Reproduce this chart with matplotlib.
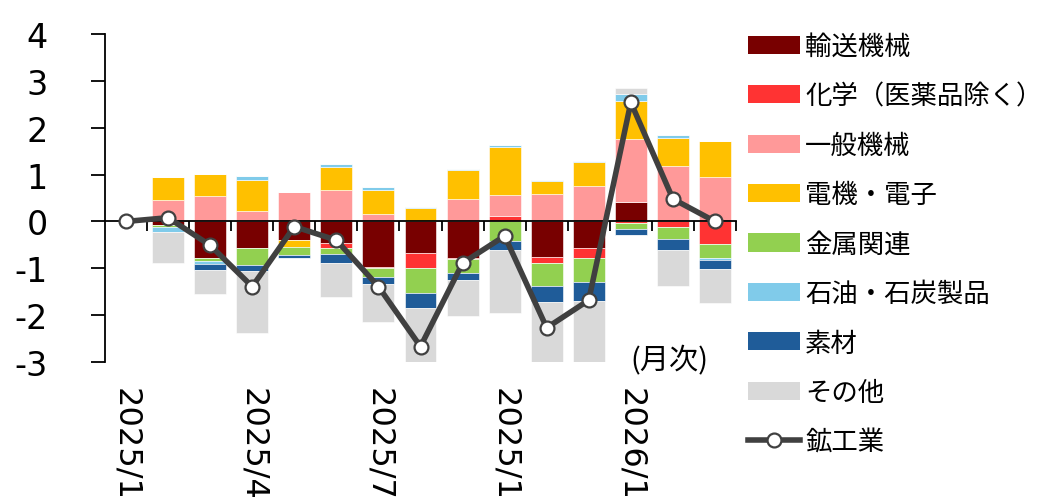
import matplotlib
matplotlib.use("Agg")
import matplotlib.pyplot as plt
import matplotlib.transforms as mtransforms
from matplotlib.patches import Patch
from matplotlib.lines import Line2D
import numpy as np

plt.rcParams['font.family'] = ['DejaVu Sans', 'Noto Sans CJK JP']
plt.rcParams['axes.unicode_minus'] = False

# 月次データ（2025/1〜2026/3、前月比寄与度）
meses = ['2025/1', '2025/2', '2025/3', '2025/4', '2025/5', '2025/6', '2025/7', '2025/8',
         '2025/9', '2025/10', '2025/11', '2025/12', '2026/1', '2026/2', '2026/3']
etiquetas_x = ['2025/1', '', '', '2025/4', '', '', '2025/7', '', '', '2025/10', '', '', '2026/1', '', '']

series = ['輸送機械', '化学（医薬品除く）', '一般機械', '電機・電子', '金属関連', '石油・石炭製品', '素材', 'その他']
colores = ['#780000', '#FF3333', '#FF9999', '#FFC000', '#92D050', '#80CBEA', '#1F5C99', '#D9D9D9']

transporte = [0, -0.08, -0.78, -0.57, -0.40, -0.45, -0.97, -0.67, -0.78, 0.0, -0.75, -0.57, 0.42, 0.0, 0.0]
quimica = [0, 0, 0, 0, 0, -0.11, -0.02, -0.33, -0.03, 0.11, -0.13, -0.21, -0.04, -0.11, -0.48]
maquinaria = [0, 0.45, 0.54, 0.22, 0.63, 0.68, 0.16, 0, 0.47, 0.45, 0.58, 0.75, 1.33, 1.18, 0.95]
electronica = [0, 0.50, 0.48, 0.67, -0.14, 0.48, 0.52, 0.28, 0.62, 1.02, 0.29, 0.51, 0.83, 0.60, 0.77]
metales = [0, -0.035, -0.07, -0.35, -0.18, -0.14, -0.20, -0.53, -0.28, -0.42, -0.50, -0.52, -0.13, -0.26, -0.30]
petroleo = [0, -0.10, -0.05, 0.07, 0, 0.06, 0.05, 0.03, 0.035, 0.05, 0.02, 0.035, 0.135, 0.064, -0.05]
materiales = [0, 0, -0.13, -0.14, -0.05, -0.18, -0.14, -0.31, -0.16, -0.18, -0.35, -0.39, -0.12, -0.23, -0.18]
otros = [0, -0.68, -0.51, -1.32, 0, -0.74, -0.81, -1.17, -0.77, -1.35, -1.34, -1.31, 0.135, -0.78, -0.73]

mineria = [0, 0.08, -0.51, -1.39, -0.11, -0.40, -1.39, -2.67, -0.89, -0.31, -2.27, -1.68, 2.54, 0.48, 0.0]

datos = [transporte, quimica, maquinaria, electronica, metales, petroleo, materiales, otros]

fig = plt.figure(figsize=(10.41, 5.02), dpi=100)
ax = fig.add_axes([105 / 1041, 1 - 363 / 502, 631 / 1041, 328 / 502])

x = np.arange(len(meses))
base_pos = np.zeros(len(meses))
base_neg = np.zeros(len(meses))

# barras apiladas: positivas hacia arriba, negativas hacia abajo
for valores, color in zip(datos, colores):
    v = np.array(valores, dtype=float)
    pos = np.where(v > 0, v, 0)
    neg = np.where(v < 0, v, 0)
    ax.bar(x, pos, bottom=base_pos, width=0.76, color=color, edgecolor='white', linewidth=0.4, zorder=2)
    ax.bar(x, neg, bottom=base_neg, width=0.76, color=color, edgecolor='white', linewidth=0.4, zorder=2)
    base_pos += pos
    base_neg += neg

# línea del índice total
ax.plot(x, mineria, color='#404040', linewidth=4, marker='o', markersize=10,
        markerfacecolor='white', markeredgecolor='#404040', markeredgewidth=1.6, zorder=4)

# ejes
ax.set_xlim(-0.5, len(meses) - 0.5)
ax.set_ylim(-3, 4)
ax.set_yticks(range(-3, 5))
ax.tick_params(axis='y', direction='out', length=10, width=1.3, pad=31, labelsize=24)
ax.spines['top'].set_visible(False)
ax.spines['right'].set_visible(False)
ax.spines['left'].set_linewidth(1.3)
ax.spines['bottom'].set_position(('data', 0))
ax.spines['bottom'].set_linewidth(1.3)
ax.spines['bottom'].set_zorder(3)
ax.set_xticks(x + 0.5)
ax.set_xticklabels([])
ax.tick_params(axis='x', direction='out', length=7, width=1.3)

trans = mtransforms.blended_transform_factory(ax.transData, ax.transAxes)
for i, et in enumerate(etiquetas_x):
    if et:
        ax.text(i, -0.075, et, rotation=-90, ha='center', va='top', fontsize=23,
                transform=trans, clip_on=False)

fig.text(669 / 1041, 1 - 360 / 502, '(月次)', ha='center', va='center', fontsize=21,
         family=['Noto Sans CJK JP'])

# leyenda
manijas = [Patch(facecolor=c, edgecolor='none') for c in colores]
manijas.append(Line2D([0], [0], color='#404040', linewidth=4, marker='o', markersize=10,
                      markerfacecolor='white', markeredgecolor='#404040', markeredgewidth=1.6))
nombres = series + ['鉱工業']
fig.legend(manijas, nombres, loc='upper left', bbox_to_anchor=(748 / 1041, 1 - 34 / 502),
           frameon=False, prop={'family': 'Noto Sans CJK JP', 'size': 19},
           handlelength=1.97, handleheight=0.68, handletextpad=0.2, labelspacing=0.85,
           borderaxespad=0, borderpad=0)

fig.savefig('out.png', dpi=100)
